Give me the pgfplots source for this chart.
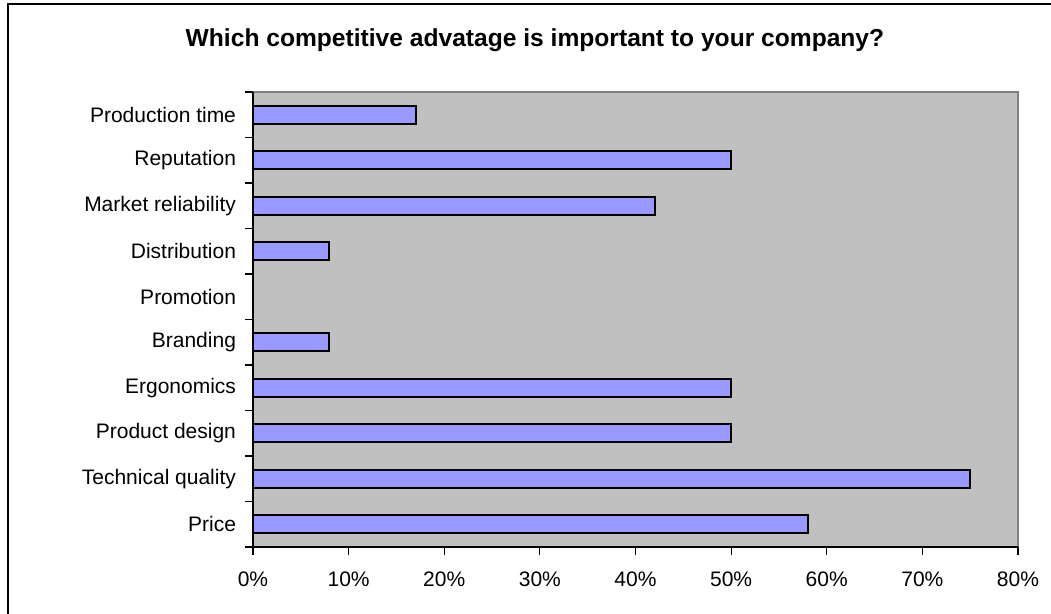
\documentclass[border=0pt]{standalone}
\usepackage{fontspec}
\setmainfont{Liberation Sans}
\usepackage{pgfplots}
\pgfplotsset{compat=1.18}
\definecolor{barfill}{HTML}{9999FF}
\definecolor{plotbg}{HTML}{C0C0C0}
\definecolor{frameg}{HTML}{808080}
\begin{document}
\begin{tikzpicture}
\path[use as bounding box] (-126.5bp,-33.5bp) rectangle (399bp,273.5bp);
\draw[line width=0.75bp] (-122.5bp,-40bp) -- (-122.5bp,271.5bp) -- (405bp,271.5bp);
\begin{axis}[
  at={(0,0)}, anchor=south west,
  scale only axis, width=382.5bp, height=227.5bp,
  xbar, bar width=9bp,
  xmin=0, xmax=80, ymin=-0.5, ymax=9.5,
  axis background/.style={fill=plotbg},
  axis line style={draw=none},
  xtick={0,10,...,80},
  xticklabels={0\%,10\%,20\%,30\%,40\%,50\%,60\%,70\%,80\%},
  ytick={0,...,9},
  yticklabels={Price,Technical quality,Product design,Ergonomics,Branding,Promotion,Distribution,Market reliability,Reputation,Production time},
  minor ytick={-0.5,0.5,...,9.5},
  major y tick style={draw=none},
  tick align=outside, tickpos=left,
  major tick length=4bp, minor tick length=4bp,
  tick style={black, line width=0.6bp},
  ticklabel style={font=\fontsize{10.5bp}{12bp}\selectfont},
  xticklabel style={yshift=-5bp},
  yticklabel style={xshift=-1bp},
  title={Which competitive advatage is important to your company?},
  title style={at={(axis description cs:0.3686,1.088)}, anchor=center, font=\bfseries\fontsize{12.3bp}{14bp}\selectfont},
  after end axis/.code={
    \draw[frameg, line width=1bp] (rel axis cs:0,1) -- (rel axis cs:1,1) -- (rel axis cs:1,0);
    \draw[black, line width=0.7bp] (rel axis cs:0,1) -- (rel axis cs:0,0) -- (rel axis cs:1,0);
  },
]
\addplot[fill=barfill, draw=black, line width=1bp] coordinates {
  (58,0) (75,1) (50,2) (50,3) (8,4) (0,5) (8,6) (42,7) (50,8) (17,9)
};
\end{axis}
\end{tikzpicture}
\end{document}
